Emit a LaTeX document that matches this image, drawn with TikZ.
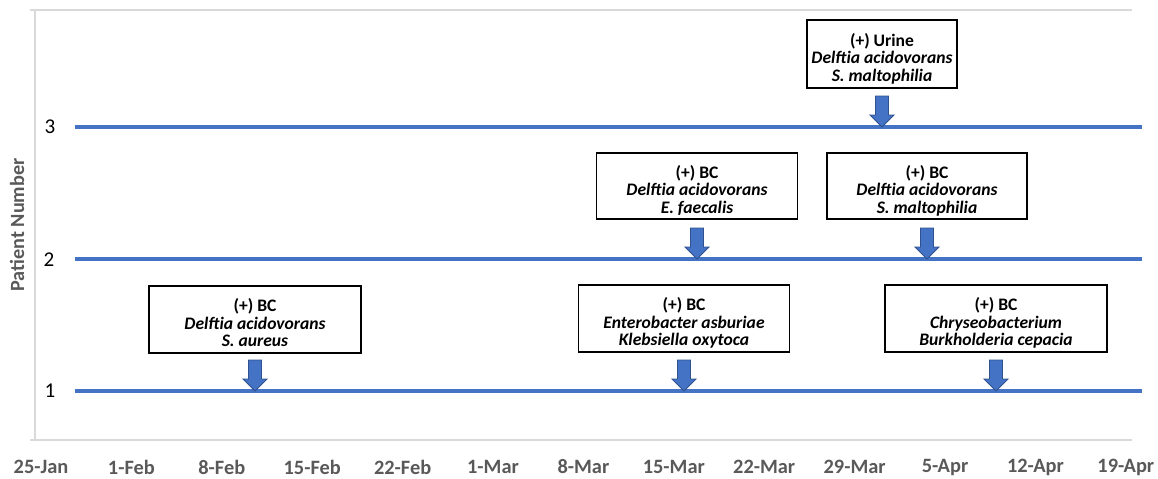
\documentclass[tikz,border=0pt]{standalone}
\usepackage{fontspec}
\setmainfont{Carlito}
\definecolor{lineblue}{HTML}{4472C4}
\definecolor{arrowedge}{HTML}{2F528F}
\definecolor{axisgray}{HTML}{D9D9D9}
\definecolor{ticktext}{HTML}{595959}
\newcommand{\boxstrut}{\rule{0pt}{11pt}}
\tikzset{
  timeline/.style={draw=lineblue, line width=2.3pt},
  axisline/.style={draw=axisgray, line width=1.6pt},
  eventbox/.style={draw=black, line width=0.8pt, fill=white, inner sep=0pt,
    align=center, font=\fontsize{10}{10}\selectfont\bfseries, text depth=0pt},
  ticklabel/.style={font=\fontsize{11.6}{13}\selectfont\bfseries, text=ticktext},
  ylab/.style={font=\fontsize{12}{14}\selectfont, text=black},
  downarr/.pic={\draw[fill=lineblue, draw=arrowedge, line width=0.5pt, line join=miter]
    (-6.5,31) -- (6.5,31) -- (6.5,12) -- (12,12) -- (0,0) -- (-12,12) -- (-6.5,12) -- cycle;}
}
\begin{document}
\begin{tikzpicture}[x=0.02cm, y=0.02cm]
\useasboundingbox (0,0) rectangle (1158,478);
% axes frame
\coordinate (tl) at (30,468);
\coordinate (tr) at (1132,468);
\coordinate (bl) at (30,38);
\coordinate (br) at (1132,38);
\coordinate (vt) at (35,468);
\coordinate (vb) at (35,38);
\draw[axisline] (tl) -- (tr);
\draw[axisline] (bl) -- (br);
\draw[axisline] (vt) -- (vb);
% timelines
\coordinate (l1a) at (75,87);  \coordinate (l1b) at (1142,87);
\coordinate (l2a) at (75,219); \coordinate (l2b) at (1142,219);
\coordinate (l3a) at (75,351); \coordinate (l3b) at (1142,351);
\draw[timeline] (l1a) -- (l1b);
\draw[timeline] (l2a) -- (l2b);
\draw[timeline] (l3a) -- (l3b);
% y labels
\node[ylab] (n1) at (50,87) {1};
\node[ylab] (n2) at (49,218) {2};
\node[ylab] (n3) at (50,351) {3};
\node[font=\fontsize{11.5}{13}\selectfont\bfseries, text=ticktext, rotate=90] (ytitle) at (17,253) {Patient Number};
% x tick labels
\foreach \lab [count=\i from 0] in {25-Jan,1-Feb,8-Feb,15-Feb,22-Feb,1-Mar,8-Mar,15-Mar,22-Mar,29-Mar,5-Apr,12-Apr,19-Apr}{
  \node[ticklabel] (t\i) at ({41+90.4*\i},11) {\lab};
}
% event boxes
\node[eventbox, minimum width=212*0.02cm, minimum height=67*0.02cm] (b11) at (255,158.5)
  {\boxstrut(+) BC\\\itshape Delftia acidovorans\\\itshape S. aureus};
\node[eventbox, minimum width=211*0.02cm, minimum height=67*0.02cm] (b12) at (684,159.5)
  {\boxstrut(+) BC\\\itshape Enterobacter asburiae\\\itshape Klebsiella oxytoca};
\node[eventbox, minimum width=222*0.02cm, minimum height=67*0.02cm] (b13) at (996,159.5)
  {\boxstrut(+) BC\\\itshape Chryseobacterium\\\itshape Burkholderia cepacia};
\node[eventbox, minimum width=201*0.02cm, minimum height=66*0.02cm] (b21) at (697,292)
  {\boxstrut(+) BC\\\itshape Delftia acidovorans\\\itshape E. faecalis};
\node[eventbox, minimum width=200*0.02cm, minimum height=66*0.02cm] (b22) at (927,292)
  {\boxstrut(+) BC\\\itshape Delftia acidovorans\\\itshape S. maltophilia};
\node[eventbox, minimum width=150*0.02cm, minimum height=68*0.02cm] (b31) at (882,424)
  {\boxstrut(+) Urine\\\itshape Delftia acidovorans\\\itshape S. maltophilia};
% arrows
\pic at (b11.south |- l1a) {downarr};
\pic at (b12.south |- l1a) {downarr};
\pic at (b13.south |- l1a) {downarr};
\pic at (b21.south |- l2a) {downarr};
\pic at (b22.south |- l2a) {downarr};
\pic at (b31.south |- l3a) {downarr};
\end{tikzpicture}
\end{document}
